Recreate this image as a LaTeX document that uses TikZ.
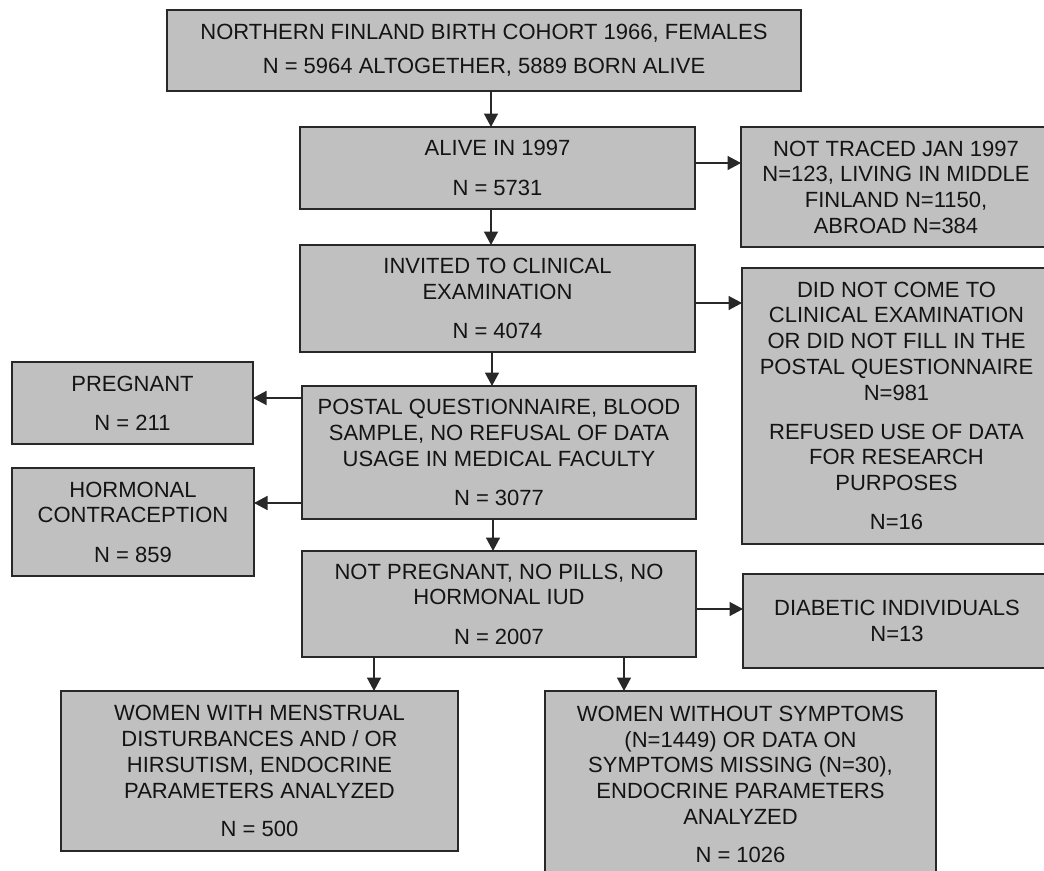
\documentclass[tikz,border=0pt]{standalone}
\usepackage{fontspec}
\setmainfont{Liberation Sans}
\usetikzlibrary{arrows.meta}
\definecolor{boxfill}{RGB}{192,192,192}
\definecolor{boxline}{RGB}{40,40,40}
\definecolor{txt}{RGB}{20,20,20}
\begin{document}
\begin{tikzpicture}[x=1pt,y=-1pt,
  box/.style={draw=boxline, fill=boxfill, line width=1.5pt, rectangle, inner sep=0pt, outer sep=0pt,
    align=center, text=txt, font=\fontsize{22}{25.7}\selectfont},
  arr/.style={draw=boxline, line width=1.5pt, -{Triangle[length=13.5pt,width=14pt]}}]
\useasboundingbox (0,0) rectangle (1044,870);
\clip (0,0) rectangle (1044,870);
\fill[white] (0,0) rectangle (1044,870);

\node[box, minimum width=634pt, minimum height=81pt] (top) at (484,50.5)
  {NORTHERN FINLAND BIRTH COHORT 1966, FEMALES\\[8.5pt] N = 5964 ALTOGETHER, 5889 BORN ALIVE};
\node[box, minimum width=395pt, minimum height=82pt] (alive) at (497.5,168)
  {ALIVE IN 1997\\[13.5pt] N = 5731};
\node[box, minimum width=310pt, minimum height=120pt] (traced) at (896,187)
  {NOT TRACED JAN 1997\\ N=123, LIVING IN MIDDLE\\ FINLAND N=1150,\\ ABROAD N=384};
\node[box, minimum width=395pt, minimum height=107pt] (invited) at (497.5,298.5)
  {INVITED TO CLINICAL\\ EXAMINATION\\[13.5pt] N = 4074};
\node[box, minimum width=309pt, minimum height=276pt] (nocome) at (896.5,406)
  {DID NOT COME TO\\ CLINICAL EXAMINATION\\ OR DID NOT FILL IN THE\\ POSTAL QUESTIONNAIRE\\ N=981\\[13.5pt]
   REFUSED USE OF DATA\\ FOR RESEARCH\\ PURPOSES\\[13.5pt] N=16};
\node[box, minimum width=241pt, minimum height=82pt] (preg) at (132.5,403)
  {PREGNANT\\[13.5pt] N = 211};
\node[box, minimum width=394pt, minimum height=133pt] (postal) at (499,452.5)
  {POSTAL QUESTIONNAIRE, BLOOD\\ SAMPLE, NO REFUSAL OF DATA\\ USAGE IN MEDICAL FACULTY\\[13.5pt] N = 3077};
\node[box, minimum width=242pt, minimum height=108pt] (horm) at (133,522)
  {HORMONAL\\ CONTRACEPTION\\[13.5pt] N = 859};
\node[box, minimum width=394pt, minimum height=106pt] (notpreg) at (499,604)
  {NOT PREGNANT, NO PILLS, NO\\ HORMONAL IUD\\[13.5pt] N = 2007};
\node[box, minimum width=308pt, minimum height=94pt] (diab) at (897,621)
  {DIABETIC INDIVIDUALS\\ N=13};
\node[box, minimum width=397pt, minimum height=160pt] (wwith) at (259.5,771)
  {WOMEN WITH MENSTRUAL\\ DISTURBANCES AND / OR\\ HIRSUTISM, ENDOCRINE\\ PARAMETERS ANALYZED\\[12.5pt] N = 500};
\node[box, minimum width=391pt, minimum height=187pt] (wwithout) at (740.5,784.5)
  {WOMEN WITHOUT SYMPTOMS\\ (N=1449) OR DATA ON\\ SYMPTOMS MISSING (N=30),\\ ENDOCRINE PARAMETERS\\ ANALYZED\\[12.5pt] N = 1026};

\draw[arr] (top.south -| 491,0) -- (alive.north -| 491,0);
\draw[arr] (alive.south -| 491,0) -- (invited.north -| 491,0);
\draw[arr] (invited.south -| 492,0) -- (postal.north -| 492,0);
\draw[arr] (postal.south -| 493,0) -- (notpreg.north -| 493,0);
\draw[arr] (notpreg.south -| 374,0) -- (wwith.north -| 374,0);
\draw[arr] (notpreg.south -| 624,0) -- (wwithout.north -| 624,0);
\draw[arr] (alive.east |- 0,163) -- (traced.west |- 0,163);
\draw[arr] (invited.east |- 0,303) -- (nocome.west |- 0,303);
\draw[arr] (postal.west |- 0,398) -- (preg.east |- 0,398);
\draw[arr] (postal.west |- 0,503) -- (horm.east |- 0,503);
\draw[arr] (notpreg.east |- 0,609) -- (diab.west |- 0,609);
\end{tikzpicture}
\end{document}
